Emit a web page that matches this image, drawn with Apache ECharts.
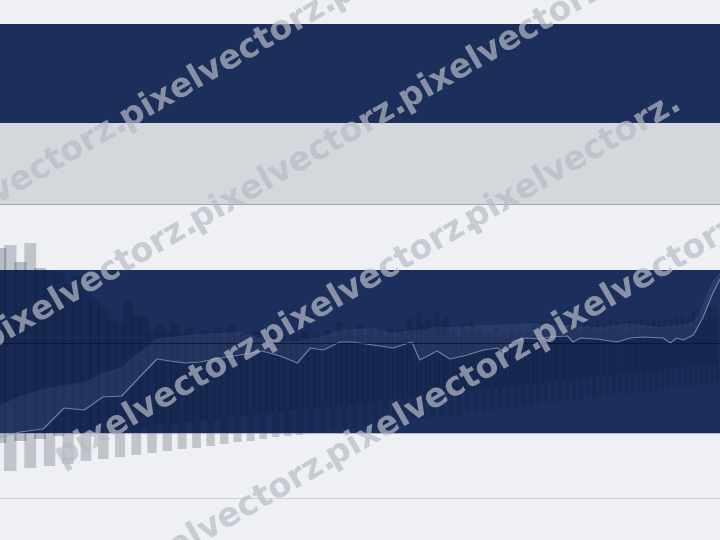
<!DOCTYPE html>
<html>
<head>
<meta charset="utf-8">
<script src="https://cdn.jsdelivr.net/npm/echarts@6/dist/echarts.min.js"></script>
<style>html,body{margin:0;padding:0;background:#eef0f3}#c{width:720px;height:540px}</style>
</head>
<body>
<div id="c"></div>
<script>
// ---- data ----
const backTop = [29.2,27.8,27.2,26.8,26.4,24.0,22.0,24.0,22.3,21.5, 21.6,21.2,21.0,21.3,21.5,20.7,20.9,21.2,20.4,20.7, 20.9,20.7,21.0,21.8,21.3,21.5,21.2,21.0,21.3,21.1, 22.2,22.7,22.0,22.8,22.3,21.0,21.5,21.8,21.0,20.7, 21.2,20.7,21.0,20.8,20.9,21.5,21.8,21.6,22.0,21.7, 21.9,21.5,22.0,21.7,21.9,21.6,22.0,21.8,21.5,21.9, 21.7,22.0,21.8,22.1,21.9,22.2,22.0,22.3,22.5,22.2, 22.8,23.2,23.0,23.4,23.2];
const backBottom = [9.7,9.9,10.1,10.4,10.6,10.8,10.9,11.1,11.3,11.5, 11.6,11.8,12.0,12.1,12.3,12.4,12.6,12.7,12.8,13.0, 13.1,13.2,13.3,13.5,13.6,13.7,13.8,13.9,14.0,14.1, 14.2,14.4,14.5,14.6,14.7,14.7,14.8,14.9,15.0,15.1, 15.2,15.3,15.4,15.5,15.6,15.6,15.7,15.8,15.9,16.0, 16.0,16.1,16.2,16.3,16.3,16.4,16.5,16.5,16.6,16.7, 16.8,16.8,16.9,17.0,17.0,17.1,17.2,17.2,17.3,17.3, 17.4,17.5,17.5,17.6,17.6];
const frontTop = [29.5,29.7,27.0,25.6,25.0,23.4,21.8,22.4,21.0,20.8, 20.7,20.4,20.5,20.2,20.6,20.0,20.2,20.4,19.8,20.0, 20.2,20.0,20.2,20.6,20.4,20.5,20.2,20.3,20.4,20.6, 21.2,21.5,21.0,21.4,20.8,20.4,20.7,20.8,20.3,20.1, 20.4,20.2,20.3,20.2,20.4,20.7,20.9,20.8,21.0,20.9, 21.0,20.8,21.1,20.9,21.0,20.9,21.1,21.0,20.8,21.1, 21.0,21.2,21.0,21.2,21.1,21.3,21.2,21.4,21.5,21.4, 21.8,22.2,22.0,22.3,22.2];
const frontBottom = [6.9,7.2,7.4,7.6,7.9,8.1,8.3,8.5,8.7,8.9, 9.1,9.2,9.4,9.6,9.8,9.9,10.1,10.3,10.4,10.5, 10.7,10.8,11.0,11.1,11.2,11.4,11.5,11.6,11.7,11.9, 12.0,12.1,12.2,12.3,12.4,12.5,12.7,12.8,12.9,13.0, 13.1,13.2,13.3,13.4,13.4,13.5,13.6,13.7,13.8,13.9, 14.0,14.1,14.2,14.2,14.3,14.4,14.5,14.6,14.6,14.7, 14.8,14.9,14.9,15.0,15.1,15.2,15.2,15.3,15.4,15.4, 15.5,15.6,15.6,15.7,15.8];
const backX = backTop.map((_, i) => 25 + i);
const frontX = frontTop.map((_, i) => 25.5 + i);

const lineX = [0,2.8,6.0,8.9,11.7,14.3,16.9,19.4,21.8,23.6, 25.7,27.8,30.6,33.3,36.4,38.9,41.3,43.1,44.9,47.2, 49.0,51.8,54.6,57.2,58.3,60.7,62.5,64.9,67.1,69.0, 70.3,71.3,73.2,75.0,76.4,78.8,79.6,80.6,82.9,85.7, 87.5,89.3,92.1,93.1,94.0,94.9,96.3,97.6,98.9,100];
const lineY = [10.3,10.8,11.1,13.2,13.0,14.3,14.4,16.3,18.1,17.9, 17.7,17.8,18.2,18.5,18.9,18.4,17.7,19.2,19.0,19.8, 19.8,19.5,19.2,19.8,18.0,18.9,18.1,18.5,19.0,19.2, 18.8,19.9,20.2,20.1,20.3,20.4,19.8,20.2,20.1,19.8, 20.2,20.3,20.2,19.7,20.2,20.0,20.5,22.2,24.5,26.1];
const bandTop = [13.5,14.4,15.1,15.5,15.8,16.7,17.3,18.8,20.2,20.3, 20.5,20.6,20.7,20.8,20.2,19.9,19.9,20.2,20.4,21.0, 21.1,21.2,20.7,21.0,21.0,21.3,21.3,21.4,21.5,21.5, 21.6,21.6,21.7,21.6,21.5,21.5,21.5,21.4,21.3,21.5, 21.7,21.5,21.3,21.4,21.5,21.6,21.8,23.5,25.8,26.8];

// background stripes (value ranges on the y axis)
const stripes = [
  { from: 51.6, to: 41.7, color: '#1c2e5a' },
  { from: 41.7, to: 33.6, color: '#d4d7db' },
  { from: 27.0, to: 10.7, color: '#1c2f5c' }
];
const rules = [
  { at: 33.6, color: '#a4a9b1' },
  { at: 4.2, color: '#cfd2d7' },
  { at: 10.7, color: 'rgba(120,135,165,0.55)' }
];
const baseRule = 19.7;
const watermarkText = 'pixelvectorz.';

// ---- chart ----
function bars(xs, tops, bottoms, fill) {
  return {
    type: 'custom', xAxisIndex: 0, yAxisIndex: 0, z: 2,
    data: xs.map((x, i) => [x, tops[i], bottoms[i]]),
    encode: { x: 0, y: [1, 2] },
    renderItem: function (params, api) {
      const x = api.value(0);
      const p0 = api.coord([x, api.value(1)]);
      const p1 = api.coord([x, api.value(2)]);
      const pn = api.coord([x + 1, api.value(1)]);
      const w = (pn[0] - p0[0]) * 0.62;
      return { type: 'rect', shape: { x: p0[0] - w / 2, y: p0[1], width: w, height: p1[1] - p0[1] }, style: { fill: fill } };
    }
  };
}

const wmRows = [
  { b: 203, xs: [-82, 127, 336] },
  { b: 345, xs: [-12, 197, 406] },
  { b: 503, xs: [62, 267, 472] },
  { b: 660, xs: [126, 333, 540] }
];
const graphics = [];
wmRows.forEach(r => r.xs.forEach(x => {
  graphics.push({
    type: 'text', x: x, y: r.b - Math.tan(Math.PI / 6) * x, rotation: Math.PI / 6, z: 100,
    style: {
      text: watermarkText, x: 0, y: 8, align: 'left', verticalAlign: 'bottom',
      font: 'bold 33.5px "DejaVu Sans"', fill: 'rgba(182,187,197,0.7)',
      shadowColor: 'rgba(255,255,255,0.55)', shadowOffsetX: -1, shadowOffsetY: -1, shadowBlur: 0
    }
  });
}));

const chart = echarts.init(document.getElementById('c'));
chart.setOption({
  backgroundColor: '#eef0f3',
  animation: false,
  grid: { left: 0, right: 0, top: 0, bottom: 0 },
  xAxis: [
    { type: 'log', min: 25, max: 100, show: false },
    { type: 'value', min: 0, max: 100, show: false }
  ],
  yAxis: { type: 'value', min: 0, max: 54, show: false },
  series: [
    {
      type: 'line', xAxisIndex: 1, z: 1, data: [[0, -10]], symbol: 'none', lineStyle: { opacity: 0 }, silent: true,
      markArea: { silent: true, data: stripes.map(s => [{ yAxis: s.from, itemStyle: { color: s.color } }, { yAxis: s.to }]) },
      markLine: { silent: true, symbol: ['none', 'none'], label: { show: false },
        data: rules.map(r => ({ yAxis: r.at, lineStyle: { color: r.color, width: 1, type: 'solid' } })) }
    },
    bars(backX, backTop, backBottom, 'rgba(10,20,48,0.24)'),
    bars(frontX, frontTop, frontBottom, 'rgba(10,20,48,0.2)'),
    {
      type: 'custom', xAxisIndex: 1, z: 3, silent: true,
      data: [[0]],
      renderItem: function (params, api) {
        const pts = [];
        for (let i = 0; i < lineX.length; i++) pts.push(api.coord([lineX[i], bandTop[i]]));
        for (let i = lineX.length - 1; i >= 0; i--) pts.push(api.coord([lineX[i], lineY[i]]));
        return { type: 'polygon', shape: { points: pts }, style: { fill: 'rgba(125,145,190,0.13)' } };
      }
    },
    {
      type: 'line', xAxisIndex: 1, z: 3, symbol: 'none',
      data: lineX.map((x, i) => [x, lineY[i]]),
      lineStyle: { color: 'rgba(140,156,190,0.75)', width: 1.2 },
      markLine: { silent: true, symbol: ['none', 'none'], label: { show: false },
        data: [{ yAxis: baseRule, lineStyle: { color: 'rgba(8,16,38,0.7)', width: 1, type: 'solid' } }] }
    }
  ],
  graphic: graphics
});
</script>
</body>
</html>
